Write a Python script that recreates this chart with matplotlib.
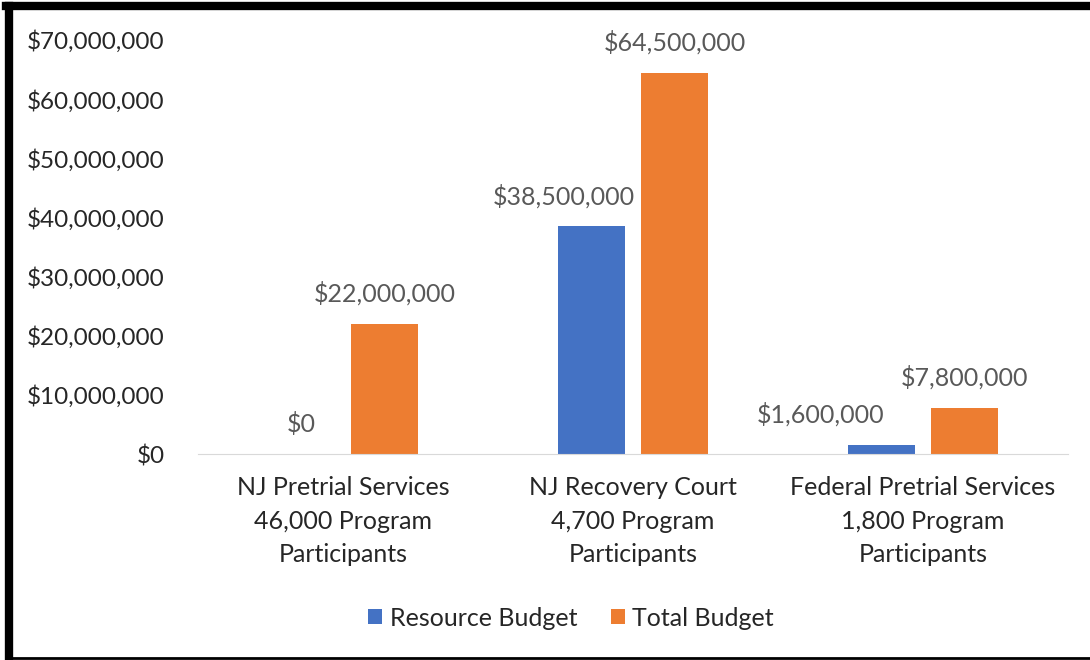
import numpy as np
import matplotlib.pyplot as plt
from matplotlib.ticker import FuncFormatter

plt.rcParams['font.family'] = ['Lato', 'DejaVu Sans']

categories = ["NJ Pretrial Services\n46,000 Program\nParticipants",
              "NJ Recovery Court\n4,700 Program\nParticipants",
              "Federal Pretrial Services\n1,800 Program\nParticipants"]
resource_budget = [0, 38500000, 1600000]
total_budget = [22000000, 64500000, 7800000]

blue = '#4472C4'
orange = '#ED7D31'
grey = '#595959'

fig = plt.figure(figsize=(10.9, 6.6), dpi=100)
ax = fig.add_axes([198 / 1090, 1 - 454 / 660, 870 / 1090, (454 - 40) / 660])

x = np.arange(len(categories))
w = 0.228
off = 0.143
b1 = ax.bar(x - off, resource_budget, w, color=blue, label='Resource Budget')
b2 = ax.bar(x + off, total_budget, w, color=orange, label='Total Budget')

def money(v, pos=None):
    return '${:,.0f}'.format(v)

# the resource labels were nudged left in the original so they don't touch the orange bars
label_shift = {0: [0, -20, -44], 1: [0, 0, 0]}
for k, bars in enumerate((b1, b2)):
    for i, r in enumerate(bars):
        ax.annotate(money(r.get_height()), (r.get_x() + r.get_width() / 2, r.get_height()),
                    xytext=(label_shift[k][i], 13), textcoords='offset points',
                    ha='center', va='bottom', fontsize=18, color=grey)

ax.set_xlim(-0.5, 2.5)
ax.set_ylim(0, 70000000)
ax.set_yticks(np.arange(0, 70000001, 10000000))
ax.yaxis.set_major_formatter(FuncFormatter(money))
ax.set_xticks(x)
ax.set_xticklabels(categories, fontsize=18, color='#262626', linespacing=1.55)
ax.tick_params(axis='y', labelsize=17.5, labelcolor='#262626', length=0, pad=24)
ax.tick_params(axis='x', length=0, pad=16)
for s in ['top', 'right', 'left']:
    ax.spines[s].set_visible(False)
ax.spines['bottom'].set_color('#D9D9D9')

fig.legend(loc='center', bbox_to_anchor=(571 / 1090, 1 - 618 / 660), ncol=2, frameon=False,
           fontsize=18, handlelength=0.55, handleheight=0.55, handletextpad=0.3,
           columnspacing=1.35, labelcolor='#262626')

# black frame around the whole chart
fig.add_artist(plt.Line2D([9 / 1090, 9 / 1090], [0, 1 - 6 / 660], color='black', lw=6))
fig.add_artist(plt.Line2D([6 / 1090, 1], [1 - 6 / 660, 1 - 6 / 660], color='black', lw=6))
fig.add_artist(plt.Line2D([6 / 1090, 1], [2 / 660, 2 / 660], color='black', lw=2))

fig.savefig('out.png', dpi=100)
